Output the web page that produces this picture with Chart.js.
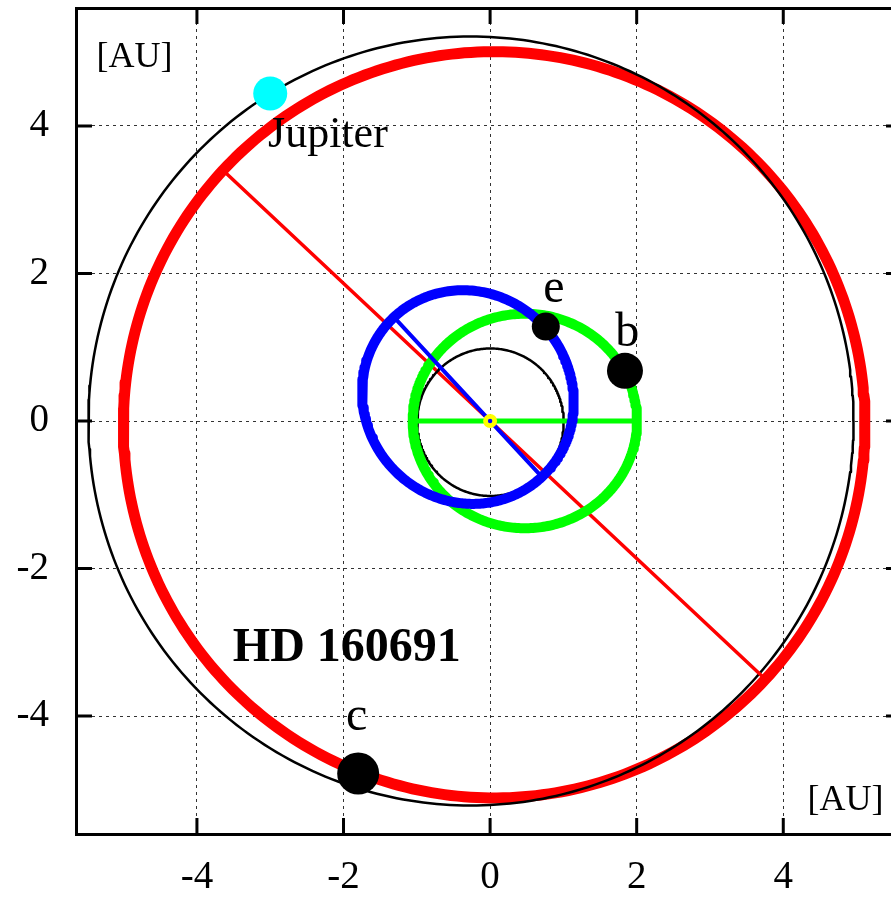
<!DOCTYPE html>
<html>
<head>
<meta charset="utf-8">
<script src="https://cdn.jsdelivr.net/npm/chart.js@4.4.1/dist/chart.umd.min.js"></script>
<style>
html, body { margin: 0; padding: 0; background: #fff; overflow: hidden; }
#wrap { width: 910px; height: 898px; }
</style>
</head>
<body>
<div id="wrap"><canvas id="orbitChart" width="910" height="898"></canvas></div>
<script>
// orbital elements (AU, degrees of periastron)
const orbitNames = ['Jupiter', 'c', 'Earth', 'b', 'e'];
const semiMajor = [5.22, 5.06, 1.0, 1.53, 1.48];
const eccentricity = [0.05, 0.015, 0.017, 0.31, 0.30];
const periAngle = [0, 137, 103, 180, -47];

// planet positions
const planetNames = ['Jupiter', 'c', 'b', 'e'];
const planetX = [-3.0, -1.80, 1.84, 0.76];
const planetY = [4.44, -4.78, 0.68, 1.28];

const tickVals = [-4, -2, 0, 2, 4];

// text on the plot (anchor in AU)
const textItems = ['[AU]', '[AU]', 'Jupiter', 'e', 'b', 'c', 'HD 160691'];
const textX = [-5.37, 4.33, -3.03, 0.87, 1.87, -1.82, -3.51];
const textY = [4.80, -5.27, 3.72, 1.61, 1.02, -4.19, -3.25];

const serif = '"Liberation Serif", "Times New Roman", serif';
const textStyle = [
    { font: '36px ' + serif, align: 'left' },
    { font: '36px ' + serif, align: 'left' },
    { font: '44px ' + serif, align: 'left' },
    { font: '48px ' + serif, align: 'center' },
    { font: '48px ' + serif, align: 'center' },
    { font: '48px ' + serif, align: 'center' },
    { font: 'bold 48px ' + serif, align: 'left' }
];

const planetStyle = {
    Jupiter: { color: '#00ffff', r: 17 },
    c: { color: '#000000', r: 21 },
    b: { color: '#000000', r: 18 },
    e: { color: '#000000', r: 14 }
};

function orbitPoints(name) {
    let i = orbitNames.indexOf(name);
    let a = semiMajor[i], e = eccentricity[i], w = periAngle[i] * Math.PI / 180;
    let p = a * (1 - e * e);
    let pts = [];
    for (let k = 0; k <= 360; k++) {
        let nu = k * Math.PI / 180;
        let r = p / (1 + e * Math.cos(nu));
        pts.push({ x: r * Math.cos(nu + w), y: r * Math.sin(nu + w) });
    }
    return pts;
}

// line from periastron to apoastron
function apsidalLine(name) {
    let i = orbitNames.indexOf(name);
    let a = semiMajor[i], e = eccentricity[i], w = periAngle[i] * Math.PI / 180;
    let rp = a * (1 - e), ra = a * (1 + e);
    return [
        { x: rp * Math.cos(w), y: rp * Math.sin(w) },
        { x: -ra * Math.cos(w), y: -ra * Math.sin(w) }
    ];
}

function curve(data, color, width, order) {
    return {
        data: data, showLine: true, borderColor: color, borderWidth: width,
        borderJoinStyle: 'round', borderCapStyle: 'round',
        pointRadius: 0, fill: false, tension: 0, order: order
    };
}

const planetData = planetNames.map((n, i) => ({ x: planetX[i], y: planetY[i] }));

const innerTicks = {
    id: 'innerTicks',
    afterDraw(chart) {
        const { ctx, chartArea: ca, scales: { x, y } } = chart;
        ctx.save();
        ctx.strokeStyle = '#000';
        ctx.lineWidth = 3;
        tickVals.forEach(v => {
            let px = x.getPixelForValue(v), py = y.getPixelForValue(v);
            ctx.beginPath();
            ctx.moveTo(px, ca.bottom); ctx.lineTo(px, ca.bottom - 16);
            ctx.moveTo(px, ca.top); ctx.lineTo(px, ca.top + 16);
            ctx.moveTo(ca.left, py); ctx.lineTo(ca.left + 16, py);
            ctx.moveTo(ca.right, py); ctx.lineTo(ca.right - 16, py);
            ctx.stroke();
        });
        ctx.restore();
    }
};

const textLabels = {
    id: 'textLabels',
    afterDatasetsDraw(chart) {
        const { ctx, scales: { x, y } } = chart;
        ctx.save();
        ctx.fillStyle = '#000';
        ctx.textBaseline = 'alphabetic';
        textItems.forEach((t, i) => {
            ctx.font = textStyle[i].font;
            ctx.textAlign = textStyle[i].align;
            ctx.fillText(t, x.getPixelForValue(textX[i]), y.getPixelForValue(textY[i]));
        });
        ctx.restore();
    }
};

// fixed axis sizes, no label overflow padding
function fixSize(w, h) {
    return s => {
        if (w !== null) s.width = w;
        if (h !== null) s.height = h;
        s.paddingTop = s.paddingBottom = s.paddingLeft = s.paddingRight = 0;
    };
}

const gridOpts = { color: '#333', lineWidth: 1, drawTicks: false };
const borderOpts = { display: true, color: '#000', width: 3, dash: [3, 4] };
const tickFont = { family: serif, size: 39 };
const setTicks = s => { s.ticks = tickVals.map(v => ({ value: v })); };

new Chart(document.getElementById('orbitChart'), {
    type: 'scatter',
    data: {
        datasets: [
            curve(orbitPoints('c'), '#ff0000', 11, 10),
            curve(orbitPoints('Jupiter'), '#000000', 2.5, 9),
            curve(apsidalLine('c'), '#ff0000', 3.5, 8),
            curve(orbitPoints('Earth'), '#000000', 2.5, 7),
            curve(orbitPoints('b'), '#00ff00', 10, 6),
            curve(apsidalLine('b'), '#00ff00', 5, 5),
            curve(orbitPoints('e'), '#0000ff', 10, 4),
            curve(apsidalLine('e'), '#0000ff', 4, 3),
            {
                data: planetData,
                pointRadius: planetNames.map(n => planetStyle[n].r),
                backgroundColor: planetNames.map(n => planetStyle[n].color),
                borderWidth: 0, order: 2
            },
            { data: [{ x: 0, y: 0 }], pointRadius: 7, backgroundColor: '#ffff00', borderWidth: 0, order: 1 },
            { data: [{ x: 0, y: 0 }], pointRadius: 2.2, backgroundColor: '#0000ff', borderWidth: 0, order: 0 }
        ]
    },
    options: {
        responsive: false,
        animation: false,
        layout: { padding: 0, autoPadding: false },
        plugins: { legend: { display: false }, tooltip: { enabled: false } },
        scales: {
            x: {
                type: 'linear', position: 'bottom', min: -5.65, max: 5.62,
                afterBuildTicks: setTicks,
                afterFit: fixSize(null, 64),
                grid: gridOpts, border: borderOpts,
                ticks: { font: tickFont, color: '#000', padding: 20, maxRotation: 0 }
            },
            y: {
                type: 'linear', position: 'left', min: -5.6, max: 5.6,
                afterBuildTicks: setTicks,
                afterFit: fixSize(76, null),
                grid: gridOpts, border: borderOpts,
                ticks: { font: tickFont, color: '#000', padding: 27 }
            },
            x2: {
                type: 'linear', position: 'top', min: -5.65, max: 5.62,
                afterFit: fixSize(null, 8),
                grid: { display: false }, border: { display: true, color: '#000', width: 3 },
                ticks: { display: false }
            },
            y2: {
                type: 'linear', position: 'right', min: -5.6, max: 5.6,
                afterFit: fixSize(8, null),
                grid: { display: false }, border: { display: true, color: '#000', width: 3 },
                ticks: { display: false }
            }
        }
    },
    plugins: [innerTicks, textLabels]
});
</script>
</body>
</html>
